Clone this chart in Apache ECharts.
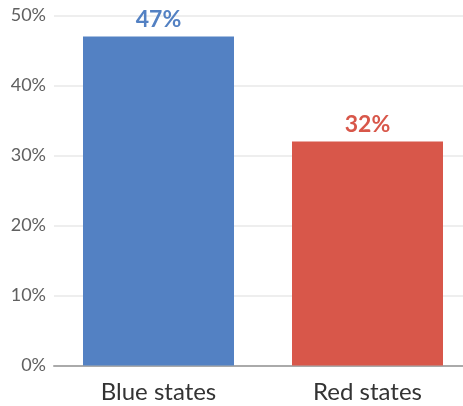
<!DOCTYPE html>
<html><head><meta charset="utf-8">
<script src="https://cdn.jsdelivr.net/npm/echarts@6/dist/echarts.min.js"></script>
<style>html,body{margin:0;padding:0;background:#fff}#c{width:463px;height:406px}</style>
</head><body><div id="c"></div>
<script>
const categories = ['Blue states', 'Red states'];
const values = [47, 32];
const barColors = ['#5381C3', '#D8574A'];
const yTicks = [0, 10, 20, 30, 40, 50];

const chart = echarts.init(document.getElementById('c'), null, {renderer: 'canvas'});
chart.setOption({
  animation: false,
  grid: {left: 54, right: -9, top: 15.5, bottom: 40.5, containLabel: false, outerBoundsMode: 'none'},
  xAxis: {
    type: 'category', data: categories,
    axisLine: {lineStyle: {color: '#aaaaaa', width: 2}},
    axisTick: {show: false},
    axisLabel: {color: '#333', fontSize: 24, fontFamily: 'Lato', margin: 15}
  },
  yAxis: {
    type: 'value', min: yTicks[0], max: yTicks[yTicks.length-1], interval: 10,
    axisLine: {show: false}, axisTick: {show: false},
    splitLine: {lineStyle: {color: '#e8e8e8', width: 1.5}},
    axisLabel: {color: '#606060', fontSize: 18, fontFamily: 'Lato', margin: 8, formatter: v => v + '%'}
  },
  series: [{
    type: 'bar', barWidth: 151,
    data: values.map((v, i) => ({value: v, itemStyle: {color: barColors[i]},
      label: {color: barColors[i]}})),
    label: {show: true, position: 'top', distance: 5, fontSize: 23, fontWeight: 'bold',
      fontFamily: 'Lato', formatter: p => p.value + '%'}
  }]
});
</script></body></html>
